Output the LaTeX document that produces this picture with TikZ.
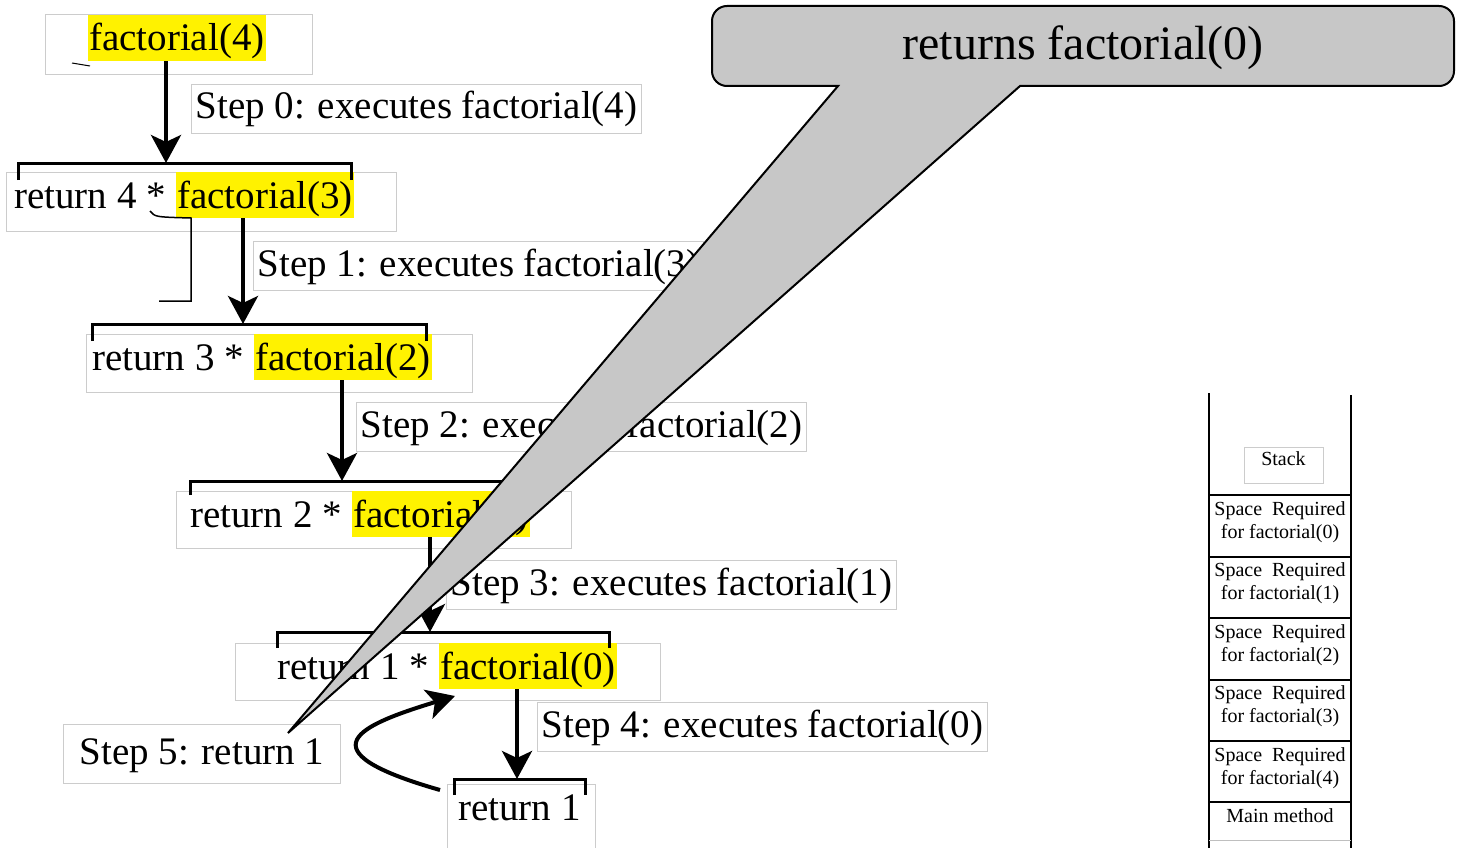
\documentclass[tikz,border=0pt]{standalone}
\usepackage{fontspec}
\setmainfont{Liberation Serif}
\usetikzlibrary{
  arrows.meta,
  positioning
}

\begin{document}
\begin{tikzpicture}[x=1pt,y=-1pt,
      frame/.style={
         rectangle,
         draw=black!20,
         line width=1pt,
         inner sep=0pt
      },
      plain/.style={
         inner sep=0pt,
         font=\fontsize{39}{44}\selectfont
      },
      call/.style={
         plain,
         fill=yellow,
         inner xsep=1pt,
         text height=36pt,
         text depth=10pt
      },
      steplabel/.style={
         plain,
         draw=black!20,
         line width=1pt,
         inner xsep=4pt,
         inner ysep=4.5pt,
         text height=30pt,
         text depth=10pt
      },
      bracket/.style={line width=3pt},
      tip/.style={line width=4pt,-{Stealth[length=28pt,width=30pt,inset=7pt]}},
      balloon/.style={draw=black,line width=2pt,fill=black!22},
      stackcell/.style={
         rectangle,
         draw,
         line width=2pt,
         outer sep=0pt,
         minimum width=142pt,
         minimum height=61.4pt,
         align=center,
         text depth=12pt,
         font=\fontsize{20}{23}\selectfont
      },
      stackwall/.style={line width=2pt}
    ]
    \useasboundingbox (0,0) rectangle (1464,848);

    % frames behind the calls
    \node (fr5) [frame, minimum width=267pt, minimum height=60pt] at (178.5,45) {};
    \node (fr4) [frame, minimum width=390pt, minimum height=59pt] at (201,201.5) {};
    \node (fr3) [frame, minimum width=386pt, minimum height=58pt] at (279,363) {};
    \node (fr2) [frame, minimum width=395pt, minimum height=57pt] at (373.5,519.5) {};
    \node (fr1) [frame, minimum width=425pt, minimum height=57pt] at (447.5,671.5) {};
    \node (fr0) [frame, minimum width=148pt, minimum height=80pt] at (521,824) {};

    % calls
    \node (f4) [call, anchor=base west] at (88,51) {factorial(4)};
    \node (r4) [plain, anchor=base west] at (14,208) {return 4 *};
    \node (f3) [call, base right=10pt of r4] {factorial(3)};
    \node (r3) [plain, anchor=base west] at (92,370) {return 3 *};
    \node (f2) [call, base right=10pt of r3] {factorial(2)};
    \node (r2) [plain, anchor=base west] at (190,527) {return 2 *};
    \node (f1) [call, base right=10pt of r2] {factorial(1)};
    \node (r1) [plain, anchor=base west] at (277,679) {return 1 *};
    \node (f0) [call, base right=10pt of r1] {factorial(0)};
    \node (r0) [plain, anchor=base west] at (458,820) {return 1};

    % step labels
    \node (s0) [steplabel, anchor=north west] at (191,84) {Step 0: executes factorial(4)};
    \node (s1) [steplabel, anchor=north west] at (253,241) {Step 1: executes factorial(3)};
    \node (s2) [steplabel, anchor=north west] at (356,402) {Step 2: executes factorial(2)};
    \node (s3) [steplabel, anchor=north west] at (446,560) {Step 3: executes factorial(1)};
    \node (s4) [steplabel, anchor=north west] at (537,702) {Step 4: executes factorial(0)};
    \node (s5) [steplabel, anchor=north west, inner xsep=16pt, inner ysep=9.5pt] at (63,724) {Step 5: return 1};

    % brackets
    \coordinate (k4) at (166,163);
    \coordinate (k3) at (243,324);
    \coordinate (k2) at (342,481);
    \coordinate (k1) at (430,632);
    \coordinate (k0) at (517,779);
    \draw[bracket] (18,180) |- (351,163) -- (351,180);
    \draw[bracket] (92,341) |- (426,324) -- (426,341);
    \draw[bracket] (190,495) |- (525,481) -- (525,495);
    \draw[bracket] (277,648) |- (609,632) -- (609,648);
    \draw[bracket] (454,795) |- (585,779) -- (585,795);

    % calls going down
    \draw[tip] (f4.south -| k4) -- (k4);
    \draw[tip] (f3.south -| k3) -- (k3);
    \draw[tip] (f2.south -| k2) -- (k2);
    \draw[tip] (f1.south -| k1) -- (k1);
    \draw[tip] (f0.south -| k0) -- (k0);

    % return going back up
    \coordinate (back) at (440,790);
    \coordinate (up) at (455,696);
    \draw[tip] (back) .. controls (300,750) and (360,725) .. (up);

    % stray strokes
    \draw[line width=1pt] (72,63) -- (90,66);
    \draw[line width=1.5pt] (150,211) .. controls (155,217) .. (191,218) -- (191,301) -- (159,301);

    % stack
    \draw[stackwall] (1209,393) -- (1209,848);
    \draw[stackwall] (1351,395) -- (1351,848);
    \node (stk) [frame, minimum width=79pt, minimum height=36pt, text depth=12pt, font=\fontsize{20}{23}\selectfont] at (1283.5,465) {Stack};
    \node (c0) [stackcell] at (1280,526) {Space~ Required\\for factorial(0)};
    \node (c1) [stackcell, below=0pt of c0] {Space~ Required\\for factorial(1)};
    \node (c2) [stackcell, below=0pt of c1] {Space~ Required\\for factorial(2)};
    \node (c3) [stackcell, below=0pt of c2] {Space~ Required\\for factorial(3)};
    \node (c4) [stackcell, below=0pt of c3] {Space~ Required\\for factorial(4)};
    \node (mm) [stackcell, draw=none, minimum height=38pt, below=0pt of c4] {Main method};
    \draw[black!25, line width=1pt] (mm.south west) -- (mm.south east);

    % balloon
    \coordinate (tail) at (288,733);
    \draw[balloon] (838,86) -- (tail) -- (1020,86) [rounded corners=15pt] -- (1454,86)
       -- (1454,6) -- (712,6) -- (712,86) [sharp corners] -- cycle;
    \node (rf0) [font=\fontsize{48}{52}\selectfont] at (1083,48) {returns factorial(0)};
\end{tikzpicture}
\end{document}
